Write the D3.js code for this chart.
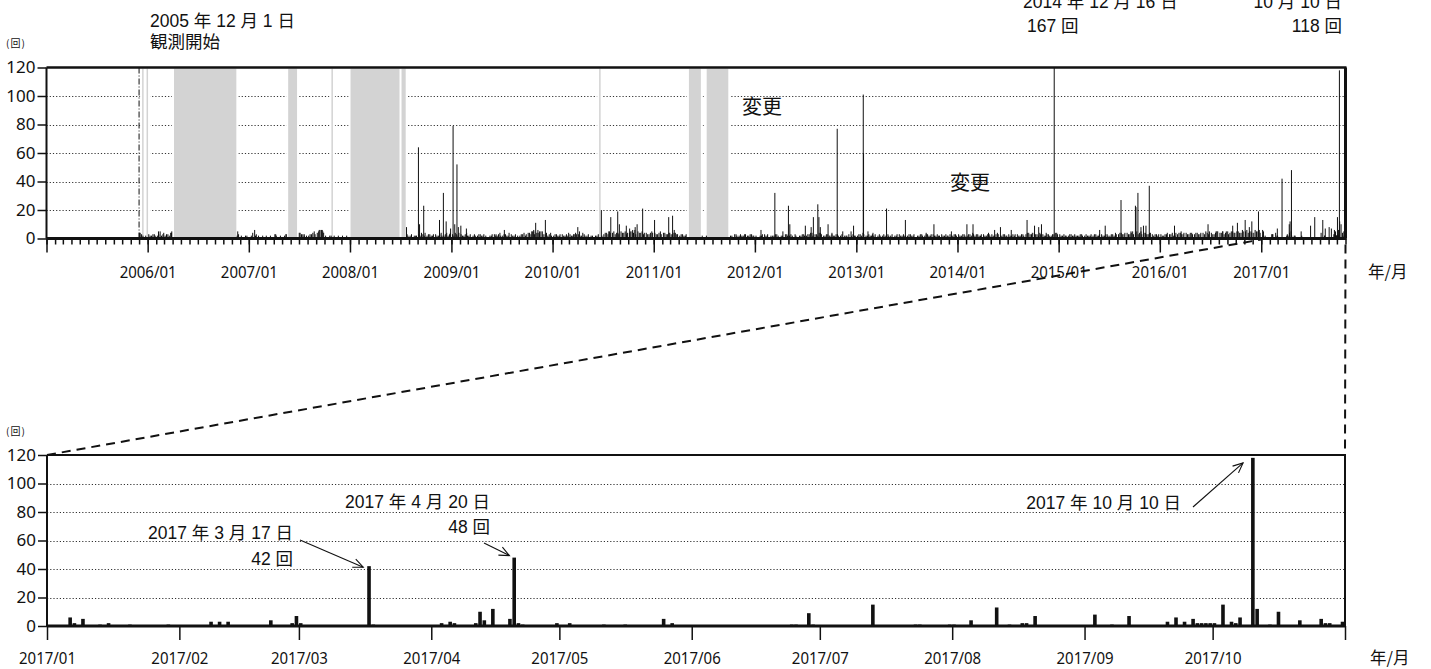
<!DOCTYPE html>
<html>
<head>
<meta charset="utf-8">
<script src="https://cdn.jsdelivr.net/npm/d3@7"></script>
<style>
  body { margin: 0; background: #fff; }
  svg { display: block; }
</style>
</head>
<body>
<svg id="chart" width="1431" height="669"></svg>
<script>
// ---------------------------------------------------------------
// Daily event counts (回) — long-term record and 2017 detail
// ---------------------------------------------------------------
const yTicks = [0, 20, 40, 60, 80, 100, 120];
const topYearTicks = ["2005/01", "2006/01", "2007/01", "2008/01", "2009/01", "2010/01", "2011/01",
                      "2012/01", "2013/01", "2014/01", "2015/01", "2016/01", "2017/01"];
const bottomMonthTicks = ["2017/01", "2017/02", "2017/03", "2017/04", "2017/05", "2017/06",
                          "2017/07", "2017/08", "2017/09", "2017/10", "2017/11"];
const axisUnit = "年/月";
const countUnit = "(回)";

const observationStart = "2005-12-01";
const changeNote = "変更";

// periods without data (shaded)
const missingPeriods = [
  ["2005-12-12", "2005-12-15"], ["2005-12-28", "2006-01-01"],
  ["2006-04-06", "2006-11-17"], ["2007-05-23", "2007-06-24"],
  ["2007-10-26", "2007-10-28"], ["2008-01-03", "2008-07-01"],
  ["2008-07-05", "2008-07-20"], ["2010-06-18", "2010-06-20"],
  ["2011-05-08", "2011-06-20"], ["2011-07-11", "2011-09-27"]
];

// notable daily counts 2005-2016
const spikes = [
  ["2005-12-02", 4], ["2006-02-09", 5], ["2006-03-29", 5],
  ["2006-11-22", 5], ["2007-01-22", 6], ["2007-04-08", 3], ["2007-05-16", 3],
  ["2007-07-02", 4], ["2007-07-20", 3], ["2007-09-12", 6], ["2007-09-23", 6],
  ["2008-07-23", 8], ["2008-09-04", 64], ["2008-09-08", 10], ["2008-09-23", 23],
  ["2008-11-19", 13], ["2008-12-03", 32], ["2008-12-13", 12], ["2008-12-29", 7],
  ["2009-01-07", 79], ["2009-01-13", 10], ["2009-01-21", 52], ["2009-01-26", 8],
  ["2009-02-04", 9], ["2009-02-24", 7], ["2009-06-11", 3], ["2009-07-11", 6],
  ["2009-10-18", 5], ["2009-10-25", 6], ["2009-11-01", 11], ["2009-11-09", 6],
  ["2009-11-15", 5], ["2009-12-06", 13], ["2010-03-18", 3], ["2010-04-02", 8],
  ["2010-04-08", 5], ["2010-06-26", 20], ["2010-07-23", 5], ["2010-07-30", 15],
  ["2010-08-24", 19], ["2010-08-30", 10], ["2010-09-24", 9], ["2010-10-06", 7],
  ["2010-10-17", 6], ["2010-10-26", 8], ["2010-11-02", 10], ["2010-11-22", 21],
  ["2011-01-04", 13], ["2011-02-24", 15], ["2011-03-10", 16], ["2011-03-16", 6],
  ["2012-01-23", 6], ["2012-02-16", 3], ["2012-03-13", 32], ["2012-04-11", 5],
  ["2012-05-01", 23], ["2012-05-06", 10], ["2012-07-01", 9], ["2012-07-22", 8],
  ["2012-07-30", 15], ["2012-08-15", 24], ["2012-08-19", 15], ["2012-08-24", 8],
  ["2012-09-21", 10], ["2012-10-05", 4], ["2012-10-24", 77], ["2012-11-13", 5],
  ["2012-12-13", 5], ["2012-12-22", 9], ["2013-01-26", 101], ["2013-01-27", 60],
  ["2013-02-12", 5], ["2013-03-02", 4], ["2013-04-20", 21], ["2013-06-27", 13],
  ["2013-09-10", 4], ["2013-10-08", 10], ["2013-12-10", 5], ["2014-02-04", 10],
  ["2014-02-26", 10], ["2014-04-23", 4], ["2014-05-15", 6], ["2014-06-05", 8],
  ["2014-07-14", 6], ["2014-09-09", 13], ["2014-10-06", 9], ["2014-10-21", 8],
  ["2014-10-31", 10], ["2014-11-17", 4], ["2014-12-16", 167], ["2015-05-29", 6],
  ["2015-06-18", 9], ["2015-07-25", 4], ["2015-08-14", 27], ["2015-09-19", 5],
  ["2015-10-05", 23], ["2015-10-07", 22], ["2015-10-14", 32], ["2015-10-25", 8],
  ["2015-11-03", 9], ["2015-11-12", 9], ["2015-11-24", 37], ["2016-02-23", 9],
  ["2016-03-18", 5], ["2016-06-23", 10], ["2016-07-22", 5], ["2016-08-15", 5],
  ["2016-09-02", 5], ["2016-09-20", 9], ["2016-10-07", 11], ["2016-11-04", 13],
  ["2016-11-19", 8], ["2016-11-28", 12], ["2016-12-22", 19]
];

// background counts, three values per month (one string per year)
const backgroundYears = [2005, 2006, 2007, 2008, 2009, 2010, 2011, 2012, 2013, 2014, 2015, 2016];
// on the 5th, 15th and 25th
const backgroundDaysA = [5, 15, 25];
const backgroundCountsA = [
  "0 0 0 0 0 0 0 0 0 0 0 0 0 0 0 0 0 0 0 0 0 0 0 0 0 0 0 0 0 0 0 0 0 4 2 2",
  "3 2 3 2 5 3 2 3 4 0 0 0 0 0 0 0 0 0 0 0 0 0 0 0 0 0 0 0 0 0 0 0 3 2 1 2",
  "1 4 2 2 1 1 2 1 1 3 1 2 1 3 0 0 0 0 4 3 1 2 3 5 4 6 5 2 1 2 2 1 1 2 1 1",
  "0 0 0 0 0 0 0 0 0 0 0 0 0 0 0 0 0 0 0 0 3 2 1 2 3 4 2 2 3 2 3 2 4 2 4 3",
  "3 4 2 3 2 4 2 1 3 2 3 2 2 1 2 3 2 4 2 3 2 3 2 1 2 3 2 4 3 5 4 3 5 3 2 4",
  "2 3 2 3 2 2 3 2 4 3 2 3 2 1 2 2 3 0 3 4 5 4 3 4 5 4 3 4 5 6 5 4 3 4 3 5",
  "4 3 5 4 3 4 3 4 3 2 3 2 0 0 0 0 0 2 0 0 0 0 0 0 0 0 0 2 1 3 2 2 3 2 3 2",
  "2 1 2 3 2 1 2 3 2 2 1 3 2 2 3 1 2 3 2 3 4 3 2 4 2 3 2 3 2 3 2 1 2 3 2 2",
  "2 3 4 2 3 2 2 1 3 2 2 3 2 1 2 3 2 2 2 3 2 1 2 3 2 3 2 3 2 2 3 2 2 3 2 3",
  "3 2 3 2 3 4 2 3 2 3 2 3 3 2 4 2 3 2 3 2 2 3 2 3 3 4 3 4 3 4 3 2 3 2 3 4",
  "3 2 2 2 3 2 2 2 3 2 2 2 2 3 2 3 2 3 2 3 2 3 4 3 4 3 5 4 3 5 4 3 4 3 3 2",
  "3 2 3 3 4 2 3 4 3 4 3 4 3 4 3 4 5 3 4 3 5 4 5 4 3 5 4 5 4 6 5 4 5 4 5 6"
];
// on the 10th, 20th and 28th
const backgroundDaysB = [10, 20, 28];
const backgroundCountsB = [
  "0 0 0 0 0 0 0 0 0 0 0 0 0 0 0 0 0 0 0 0 0 0 0 0 0 0 0 0 0 0 0 0 0 3 1 0",
  "2 3 2 3 2 4 3 2 4 0 0 0 0 0 0 0 0 0 0 0 0 0 0 0 0 0 0 0 0 0 0 2 1 1 2 1",
  "2 1 3 1 2 1 1 2 1 2 1 1 2 0 0 0 0 1 3 2 2 3 4 3 5 6 4 1 2 0 1 2 1 1 2 1",
  "0 0 0 0 0 0 0 0 0 0 0 0 0 0 0 0 0 0 0 0 2 3 2 2 2 3 4 3 2 3 2 3 2 3 2 4",
  "2 3 4 2 3 2 3 2 2 3 2 3 1 2 3 2 3 2 3 2 4 2 3 2 3 4 3 4 5 3 4 5 3 4 3 2",
  "3 2 3 2 3 4 2 3 3 2 4 2 3 2 1 2 0 2 4 3 4 5 4 3 4 5 4 5 4 3 4 5 4 3 4 4",
  "3 4 3 4 3 4 3 4 3 3 2 3 0 0 0 0 0 1 2 0 0 0 0 0 0 0 1 2 3 2 3 2 3 2 3 2",
  "1 2 3 2 1 2 2 3 1 2 3 2 3 1 2 2 3 2 3 4 2 3 4 3 2 3 2 2 3 2 3 2 2 1 3 2",
  "3 2 3 2 2 3 3 2 2 3 2 2 3 2 3 2 3 2 3 2 3 2 3 2 3 2 3 2 3 2 2 3 2 2 3 2",
  "2 3 2 3 2 3 3 2 3 2 3 2 2 3 3 2 3 2 2 3 3 2 3 2 4 3 4 3 2 3 2 3 2 3 4 3",
  "2 3 2 3 2 3 2 3 2 3 2 3 3 2 3 2 3 2 3 2 3 4 3 4 3 4 3 5 4 3 4 3 4 2 3 3",
  "2 3 4 3 2 4 4 3 4 3 4 3 4 3 4 3 4 5 3 4 5 4 3 5 4 5 4 5 4 5 6 5 4 6 5 4"
];

// daily counts 2017
const daily2017 = [
  ["2017-01-06", 6], ["2017-01-07", 2], ["2017-01-09", 5], ["2017-01-13", 1], ["2017-01-15", 2],
  ["2017-01-20", 1], ["2017-01-29", 1],
  ["2017-02-08", 3], ["2017-02-10", 3], ["2017-02-12", 3], ["2017-02-22", 4], ["2017-02-27", 2],
  ["2017-02-28", 7],
  ["2017-03-01", 2], ["2017-03-17", 42], ["2017-03-18", 1],
  ["2017-04-03", 2], ["2017-04-05", 3], ["2017-04-06", 2], ["2017-04-11", 2], ["2017-04-12", 10],
  ["2017-04-13", 4], ["2017-04-15", 12], ["2017-04-19", 5], ["2017-04-20", 48], ["2017-04-21", 2],
  ["2017-04-22", 1], ["2017-04-30", 2],
  ["2017-05-03", 2], ["2017-05-11", 1], ["2017-05-16", 1], ["2017-05-25", 5], ["2017-05-27", 2],
  ["2017-06-24", 1], ["2017-06-25", 1], ["2017-06-28", 9], ["2017-06-29", 1],
  ["2017-07-13", 15], ["2017-07-23", 1], ["2017-07-24", 1], ["2017-07-31", 1],
  ["2017-08-01", 1], ["2017-08-05", 4], ["2017-08-11", 13], ["2017-08-14", 1], ["2017-08-17", 2],
  ["2017-08-18", 2], ["2017-08-20", 7],
  ["2017-09-03", 8], ["2017-09-07", 1], ["2017-09-11", 7], ["2017-09-20", 3], ["2017-09-22", 6],
  ["2017-09-24", 3], ["2017-09-26", 5], ["2017-09-27", 2], ["2017-09-28", 2], ["2017-09-29", 2],
  ["2017-09-30", 2],
  ["2017-10-01", 2], ["2017-10-03", 15], ["2017-10-05", 3], ["2017-10-06", 2], ["2017-10-07", 6],
  ["2017-10-10", 118], ["2017-10-11", 12], ["2017-10-14", 1], ["2017-10-16", 10], ["2017-10-21", 4],
  ["2017-10-26", 5], ["2017-10-27", 2], ["2017-10-28", 2], ["2017-10-31", 3]
];

// labelled events
const peakBig = { date: "2014-12-16", label: "2014 年 12 月 16 日", count: "167 回" };
const peakLatest = { date: "2017-10-10", label: "10 月 10 日", count: "118 回" };
const detailNotes = [
  { date: "2017-03-17", label: "2017 年 3 月 17 日", count: "42 回" },
  { date: "2017-04-20", label: "2017 年 4 月 20 日", count: "48 回" },
  { date: "2017-10-10", label: "2017 年 10 月 10 日", count: "" }
];

// ---------------------------------------------------------------
const parse = d3.timeParse("%Y-%m-%d");
const parseYM = d3.timeParse("%Y/%m");
const svg = d3.select("#chart");

const LATIN = "'Noto Sans', 'Open Sans', sans-serif";
const MIXED = "'Liberation Sans', Arial, 'Noto Sans CJK JP', sans-serif";
const CJK = "'Noto Sans CJK JP', sans-serif";
const INK = "#111";
const DATE_LABEL_WIDTH = 57;   // condensed yyyy/mm labels

const TOP = { x0: 46.5, x1: 1345.5, y0: 238.5, y1: 67.5 };
const BOT = { x0: 47, x1: 1345, y0: 626, y1: 455 };

const xTop = d3.scaleTime().domain([parse("2005-01-01"), parse("2017-11-01")]).range([TOP.x0, TOP.x1]);
const yTop = d3.scaleLinear().domain([0, 120]).range([TOP.y0, TOP.y1]);
const xBot = d3.scaleTime().domain([parse("2017-01-01"), parse("2017-11-01")]).range([BOT.x0, BOT.x1]);
const yBot = d3.scaleLinear().domain([0, 120]).range([BOT.y0, BOT.y1]);

function gridLines(g, x, y) {
  g.selectAll("line").data(yTicks.filter(v => v > 0 && v < 120)).join("line")
    .attr("x1", x.range()[0]).attr("x2", x.range()[1])
    .attr("y1", d => Math.round(y(d)) + 0.5).attr("y2", d => Math.round(y(d)) + 0.5)
    .attr("stroke", "#333").attr("stroke-width", 1).attr("stroke-dasharray", "1.2,2");
}

function leftAxis(x, y) {
  svg.append("g")
    .attr("transform", `translate(${x.range()[0]},0)`)
    .call(d3.axisLeft(y).tickValues(yTicks).tickSize(9).tickPadding(2))
    .attr("font-family", LATIN).attr("font-size", 17)
    .call(g => g.select(".domain").remove())
    .call(g => g.selectAll("line").attr("stroke", INK).attr("stroke-width", 1.5))
    .call(g => g.selectAll("text").attr("fill", INK));
}

function condenseDateLabels(g) {
  g.selectAll("text").filter(function () { return this.textContent.length > 0; })
    .attr("textLength", DATE_LABEL_WIDTH).attr("lengthAdjust", "spacingAndGlyphs");
}

// ===================== long-term panel =====================
const panelA = svg.append("g");
gridLines(panelA.append("g"), xTop, yTop);

// missing-data shading
const gaps = panelA.append("g");
missingPeriods.forEach(([a, b]) => {
  const xa = xTop(parse(a)), xb = xTop(parse(b));
  const w = Math.max(1.5, xb - xa);
  gaps.append("rect").attr("x", xa - 2).attr("width", w + 4)
    .attr("y", TOP.y1).attr("height", TOP.y0 - TOP.y1).attr("fill", "#fff");
  gaps.append("rect").attr("x", xa).attr("width", w)
    .attr("y", TOP.y1 + 1).attr("height", TOP.y0 - TOP.y1 - 1).attr("fill", "#d3d3d3");
});

// observation start marker
panelA.append("line")
  .attr("x1", xTop(parse(observationStart))).attr("x2", xTop(parse(observationStart)))
  .attr("y1", TOP.y1).attr("y2", TOP.y0)
  .attr("stroke", INK).attr("stroke-width", 1).attr("stroke-dasharray", "6,2,1,2");

// bars: background counts, notable counts, 2017
const topBars = [];
[[backgroundCountsA, backgroundDaysA], [backgroundCountsB, backgroundDaysB]].forEach(([rows, days]) => {
  backgroundYears.forEach((yr, i) => {
    rows[i].split(" ").map(Number).forEach((v, k) => {
      if (v > 0) topBars.push([new Date(yr, Math.floor(k / 3), days[k % 3]), v]);
    });
  });
});
spikes.forEach(([d, v]) => topBars.push([parse(d), v]));
daily2017.forEach(([d, v]) => topBars.push([parse(d), v]));

panelA.append("g").selectAll("rect").data(topBars).join("rect")
  .attr("x", d => xTop(d[0]) - 0.5)
  .attr("width", 1)
  .attr("y", d => yTop(Math.min(d[1], 120)))
  .attr("height", d => TOP.y0 - yTop(Math.min(d[1], 120)))
  .attr("fill", INK);

// x axis: monthly minor ticks, yearly major ticks
const xAxTop = panelA.append("g").attr("transform", `translate(0,${TOP.y0})`);
xAxTop.append("g")
  .call(d3.axisBottom(xTop).ticks(d3.timeMonth.every(1)).tickSize(6).tickFormat(""))
  .call(g => g.select(".domain").remove())
  .call(g => g.selectAll("line").attr("stroke", INK).attr("stroke-width", 1.5));
xAxTop.append("g")
  .call(d3.axisBottom(xTop).tickValues(topYearTicks.map(t => parseYM(t))).tickSize(14).tickPadding(13)
    .tickFormat((d, i) => i === 0 ? "" : topYearTicks[i]))
  .attr("font-family", LATIN).attr("font-size", 17)
  .call(g => g.select(".domain").remove())
  .call(g => g.selectAll("line").attr("stroke", INK).attr("stroke-width", 1.5))
  .call(g => g.selectAll("text").attr("fill", INK))
  .call(condenseDateLabels);

leftAxis(xTop, yTop);

// frame
panelA.append("line").attr("x1", TOP.x0).attr("x2", TOP.x1 + 1).attr("y1", TOP.y1).attr("y2", TOP.y1)
  .attr("stroke", INK).attr("stroke-width", 2.5);
panelA.append("line").attr("x1", TOP.x0).attr("x2", TOP.x0).attr("y1", TOP.y1).attr("y2", TOP.y0)
  .attr("stroke", INK).attr("stroke-width", 2);
panelA.append("line").attr("x1", TOP.x1).attr("x2", TOP.x1).attr("y1", TOP.y1).attr("y2", TOP.y0)
  .attr("stroke", INK).attr("stroke-width", 3);
panelA.append("line").attr("x1", TOP.x0).attr("x2", TOP.x1 + 1).attr("y1", TOP.y0).attr("y2", TOP.y0)
  .attr("stroke", INK).attr("stroke-width", 3);

// texts
const txt = (g, x, y, s, size, family, anchor) => g.append("text")
  .attr("x", x).attr("y", y).attr("font-size", size).attr("font-family", family)
  .attr("text-anchor", anchor || "start").attr("fill", INK).text(s);

txt(svg, 6, 47, countUnit, 10, CJK).attr("letter-spacing", 1);
txt(svg, 150, 26.5, "2005 年 12 月 1 日", 17.5, MIXED);
txt(svg, 150, 48, "観測開始", 17.5, MIXED);
txt(svg, 1023, 8, peakBig.label, 17.5, MIXED);
txt(svg, 1027, 31.5, peakBig.count, 17.5, MIXED);
txt(svg, 1342, 8, peakLatest.label, 17.5, MIXED, "end");
txt(svg, 1342, 31.5, peakLatest.count, 17.5, MIXED, "end");
txt(svg, 742, 114, changeNote, 20, CJK);
txt(svg, 950, 190, changeNote, 20, CJK);
txt(svg, 1368, 278, axisUnit, 16.5, CJK);

// ===================== 2017 detail panel =====================
const panelB = svg.append("g");
gridLines(panelB.append("g"), xBot, yBot);

panelB.append("g").selectAll("rect").data(daily2017).join("rect")
  .attr("x", d => xBot(parse(d[0])))
  .attr("width", 3.6)
  .attr("y", d => yBot(d[1]))
  .attr("height", d => BOT.y0 - yBot(d[1]))
  .attr("fill", INK);

panelB.append("g").attr("transform", `translate(0,${BOT.y0})`)
  .call(d3.axisBottom(xBot).tickValues(bottomMonthTicks.map(t => parseYM(t))).tickSize(14).tickPadding(11.5)
    .tickFormat((d, i) => i === bottomMonthTicks.length - 1 ? "" : bottomMonthTicks[i]))
  .attr("font-family", LATIN).attr("font-size", 17)
  .call(g => g.select(".domain").remove())
  .call(g => g.selectAll("line").attr("stroke", INK).attr("stroke-width", 1.5))
  .call(g => g.selectAll("text").attr("fill", INK))
  .call(condenseDateLabels);

leftAxis(xBot, yBot);

panelB.append("line").attr("x1", BOT.x0).attr("x2", BOT.x1 + 1).attr("y1", BOT.y1).attr("y2", BOT.y1)
  .attr("stroke", INK).attr("stroke-width", 2);
panelB.append("line").attr("x1", BOT.x0).attr("x2", BOT.x0).attr("y1", BOT.y1).attr("y2", BOT.y0)
  .attr("stroke", INK).attr("stroke-width", 2);
panelB.append("line").attr("x1", BOT.x1).attr("x2", BOT.x1).attr("y1", BOT.y1).attr("y2", BOT.y0)
  .attr("stroke", INK).attr("stroke-width", 2);
panelB.append("line").attr("x1", BOT.x0).attr("x2", BOT.x1 + 1).attr("y1", BOT.y0).attr("y2", BOT.y0)
  .attr("stroke", INK).attr("stroke-width", 3);

txt(svg, 6, 435, countUnit, 10, CJK).attr("letter-spacing", 1);
txt(svg, 1370, 664, axisUnit, 16.5, CJK);

// zoom connectors
svg.append("line")
  .attr("x1", BOT.x0).attr("y1", BOT.y1)
  .attr("x2", xTop(parse("2017-01-01"))).attr("y2", TOP.y0 + 1)
  .attr("stroke", INK).attr("stroke-width", 2).attr("stroke-dasharray", "9,6");
svg.append("line")
  .attr("x1", xTop(parse("2017-11-01"))).attr("y1", TOP.y0 + 6)
  .attr("x2", BOT.x1).attr("y2", BOT.y1)
  .attr("stroke", INK).attr("stroke-width", 2).attr("stroke-dasharray", "9,6");

// annotated peaks with open arrowheads
function arrow(x1, y1, x2, y2) {
  const a = Math.atan2(y2 - y1, x2 - x1), L = 11, s = 0.42;
  const g = svg.append("g").attr("stroke", INK).attr("stroke-width", 1.1).attr("fill", "none");
  g.append("line").attr("x1", x1).attr("y1", y1).attr("x2", x2).attr("y2", y2);
  g.append("path").attr("d",
    `M${x2 - L * Math.cos(a - s)},${y2 - L * Math.sin(a - s)}L${x2},${y2}L${x2 - L * Math.cos(a + s)},${y2 - L * Math.sin(a + s)}`);
}
const peakCount = d => daily2017.find(r => r[0] === d)[1];

// 3/17
{
  const n = detailNotes[0], xb = xBot(parse(n.date)), yb = yBot(peakCount(n.date));
  txt(svg, 293, 539, n.label, 17.5, MIXED, "end");
  txt(svg, 293, 565, n.count, 17.5, MIXED, "end");
  arrow(300, 540, xb - 4, yb + 1);
}
// 4/20
{
  const n = detailNotes[1], xb = xBot(parse(n.date)), yb = yBot(peakCount(n.date));
  txt(svg, 490, 508, n.label, 17.5, MIXED, "end");
  txt(svg, 490, 533, n.count, 17.5, MIXED, "end");
  arrow(484, 543, xb - 3, yb - 2);
}
// 10/10
{
  const n = detailNotes[2], xb = xBot(parse(n.date)), yb = yBot(peakCount(n.date));
  txt(svg, 1181, 509, n.label, 17.5, MIXED, "end");
  arrow(1193, 507, xb - 8, yb + 5);
}
</script>
</body>
</html>
